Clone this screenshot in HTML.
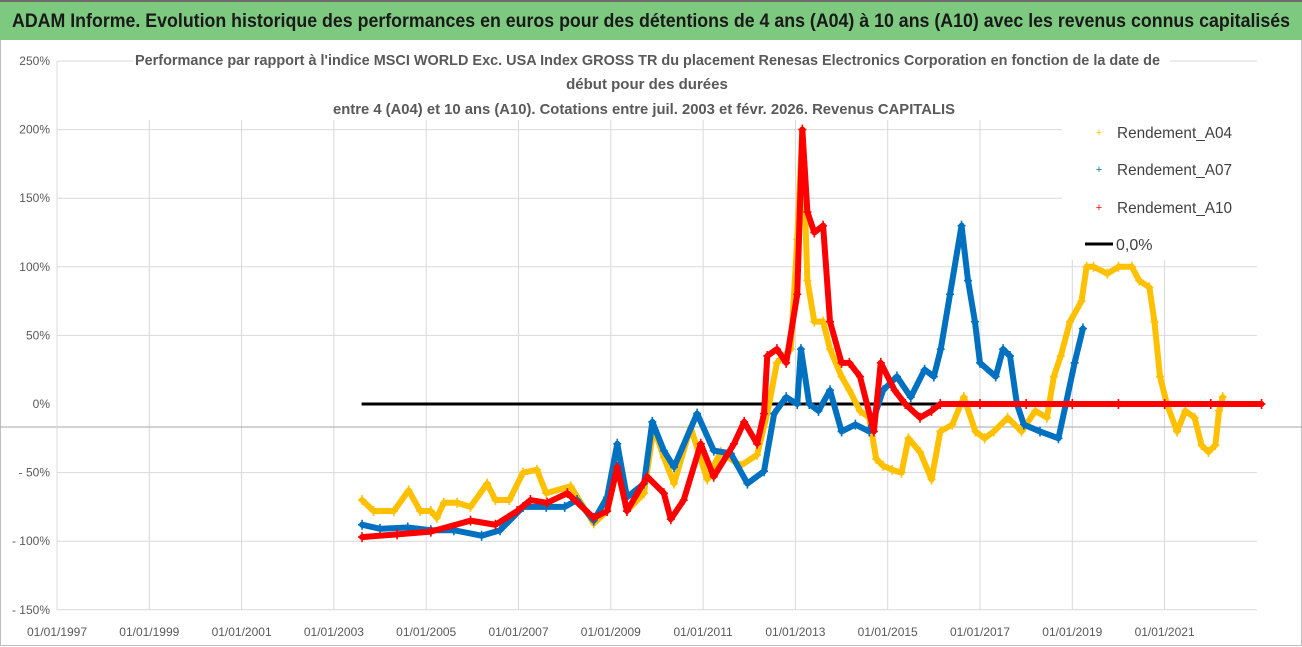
<!DOCTYPE html>
<html><head><meta charset="utf-8"><style>
html,body{margin:0;padding:0;background:#fff;}
svg{display:block;font-family:"Liberation Sans Narrow","Liberation Sans",sans-serif;}
</style></head><body>
<svg id="chart" width="1302" height="647" viewBox="0 0 1302 647">
<rect x="0" y="0" width="1302" height="647" fill="#fff"/>
<rect x="0.5" y="0.5" width="1301" height="645" fill="none" stroke="#bfbfbf"/>
<rect x="0" y="0" width="1302" height="40" fill="#7dc97f"/>
<line x1="0" y1="1" x2="1302" y2="1" stroke="#6b6b6b" stroke-width="2"/>
<text x="12" y="27" font-size="19" font-weight="bold" fill="#1a1a1a" textLength="1278" lengthAdjust="spacingAndGlyphs">ADAM Informe. Evolution historique des performances en euros pour des détentions de 4 ans (A04) à 10 ans (A10) avec les revenus connus capitalisés</text>
<g id="grid"></g>
<g id="marks"></g>
<g id="axes"></g>
<rect x="133" y="44" width="1037" height="76" fill="#fff"/>
<g font-size="15" font-weight="bold" fill="#595959">
<text x="135" y="65" textLength="1025" lengthAdjust="spacingAndGlyphs">Performance par rapport à l'indice MSCI WORLD Exc. USA Index GROSS TR  du placement Renesas Electronics Corporation en fonction de la date de</text>
<text x="647" y="89" text-anchor="middle">début pour des durées</text>
<text x="333" y="114" textLength="622" lengthAdjust="spacingAndGlyphs">entre 4 (A04) et 10 ans (A10). Cotations entre juil. 2003 et févr. 2026. Revenus CAPITALIS</text>
</g>
<g id="legend">
<rect x="1062" y="115" width="196" height="145" fill="#fff"/>
<g><text x="1099" y="136" font-size="11" fill="#ffc000" text-anchor="middle">+</text><text x="1117" y="138" font-size="16" fill="#404040" textLength="115" lengthAdjust="spacingAndGlyphs">Rendement_A04</text></g>
<g><text x="1099" y="173" font-size="11" fill="#0070c0" text-anchor="middle">+</text><text x="1117" y="175" font-size="16" fill="#404040" textLength="115" lengthAdjust="spacingAndGlyphs">Rendement_A07</text></g>
<g><text x="1099" y="211" font-size="11" fill="#ff0000" text-anchor="middle">+</text><text x="1117" y="213" font-size="16" fill="#404040" textLength="115" lengthAdjust="spacingAndGlyphs">Rendement_A10</text></g>
<g><line x1="1085" y1="244" x2="1113" y2="244" stroke="#000" stroke-width="3"/><text x="1116" y="250" font-size="16" fill="#404040">0,0%</text></g>
</g>
</svg>
<script>
const yTicks=[250,200,150,100,50,0,-50,-100,-150];
const yTickLabels=["250%","200%","150%","100%","50%","0%","- 50%","- 100%","- 150%"];
const xTickYears=[1997,1999,2001,2003,2005,2007,2009,2011,2013,2015,2017,2019,2021];
const xTickLabels=["01/01/1997","01/01/1999","01/01/2001","01/01/2003","01/01/2005","01/01/2007","01/01/2009","01/01/2011","01/01/2013","01/01/2015","01/01/2017","01/01/2019","01/01/2021"];
const zeroLineDates=[2003.6,2016.1];
const zeroLineValues=[0,0];
const datesA04=[2003.61,2003.86,2004.3,2004.62,2004.87,2005.1,2005.23,2005.38,2005.67,2005.96,2006.32,2006.5,2006.8,2007.1,2007.4,2007.6,2008.13,2008.63,2008.92,2009.14,2009.35,2009.72,2009.93,2010.15,2010.37,2010.73,2011.09,2011.38,2011.81,2012.17,2012.39,2012.6,2012.9,2013.04,2013.15,2013.26,2013.41,2013.6,2013.75,2014.0,2014.17,2014.4,2014.6,2014.75,2014.9,2015.1,2015.3,2015.45,2015.7,2015.95,2016.14,2016.4,2016.65,2016.9,2017.1,2017.3,2017.6,2017.9,2018.2,2018.45,2018.6,2018.75,2018.95,2019.2,2019.31,2019.46,2019.76,2020.0,2020.29,2020.45,2020.67,2020.78,2020.9,2021.05,2021.27,2021.45,2021.65,2021.8,2021.95,2022.1,2022.18,2022.26];
const valuesA04=[-70,-78,-78,-63,-78,-78,-83,-72,-72,-75,-58,-70,-70,-50,-48,-65,-60,-87,-78,-46,-78,-65,-17,-39,-58,-17,-55,-35,-45,-37,-7,30,40,120,200,90,60,60,40,20,10,-5,-10,-40,-45,-48,-50,-25,-35,-55,-20,-15,5,-20,-25,-20,-10,-20,-5,-10,20,35,60,75,100,100,95,100,100,90,85,60,20,0,-20,-5,-10,-30,-35,-30,-5,5];
const datesA07=[2003.61,2004.0,2004.6,2005.1,2005.6,2006.2,2006.6,2007.1,2007.6,2008.0,2008.27,2008.63,2008.92,2009.14,2009.35,2009.72,2009.9,2010.15,2010.37,2010.87,2011.23,2011.6,2011.96,2012.32,2012.54,2012.8,2013.04,2013.12,2013.3,2013.5,2013.75,2014.0,2014.3,2014.6,2014.9,2015.2,2015.5,2015.8,2016.0,2016.15,2016.35,2016.6,2016.74,2016.89,2017.0,2017.34,2017.5,2017.65,2017.8,2017.95,2018.3,2018.7,2018.86,2019.05,2019.23];
const valuesA07=[-88,-91,-90,-92,-92,-96,-92,-75,-75,-75,-70,-85,-68,-29,-68,-58,-13,-34,-46,-7,-34,-36,-58,-49,-7,5,0,40,0,-5,10,-20,-15,-20,10,20,5,25,20,40,80,130,90,60,30,20,40,35,0,-15,-20,-25,0,30,55];
const datesA10=[2003.61,2004.37,2005.1,2005.96,2006.5,2006.97,2007.26,2007.62,2008.06,2008.63,2008.92,2009.14,2009.35,2009.79,2010.15,2010.3,2010.58,2010.95,2011.23,2011.67,2011.89,2012.17,2012.32,2012.39,2012.6,2012.8,2013.04,2013.15,2013.26,2013.41,2013.6,2013.75,2014.0,2014.17,2014.4,2014.7,2014.85,2015.15,2015.38,2015.7,2015.95,2016.14,2017.0,2018.0,2019.0,2020.0,2021.0,2022.0,2023.1];
const valuesA10=[-97,-95,-93,-85,-88,-78,-70,-72,-65,-83,-78,-46,-78,-53,-65,-84,-70,-29,-53,-29,-13,-29,-7,35,40,30,80,200,140,125,130,60,30,30,20,-20,30,10,0,-10,-5,0,0,0,0,0,0,0,0];

const NS="http://www.w3.org/2000/svg";
const X0=57,X1=1257,Y0=404;
function xScale(yr){return X0+(yr-1997)*46.15;}
function yScale(v){return Y0-v*1.372;}
function mk(tag,attrs,parent){const e=document.createElementNS(NS,tag);for(const k in attrs)e.setAttribute(k,attrs[k]);parent.appendChild(e);return e;}
const grid=document.getElementById('grid'),marks=document.getElementById('marks'),axes=document.getElementById('axes');

yTicks.forEach(function(v,i){
  const y=yScale(v);
  if(v!==0&&v!==-150){
    const l=mk('line',{x1:X0,y1:y,x2:X1,y2:y,stroke:'#d9d9d9','stroke-width':1},grid);
    
    
  }
  const t=mk('text',{x:50,y:y+4,'font-size':12,fill:'#595959','text-anchor':'end'},axes);
  t.textContent=yTickLabels[i];
  
  
});
xTickYears.forEach(function(yr,i){
  const x=xScale(yr);
  if(i>0){
    const l=mk('line',{x1:x,y1:120,x2:x,y2:yScale(-150),stroke:'#d9d9d9','stroke-width':1},grid);
    
    
  }
  const t=mk('text',{x:x,y:636,'font-size':12,fill:'#595959','text-anchor':'middle'},axes);
  t.textContent=xTickLabels[i];
  
  
});
const ax=mk('line',{x1:X0,y1:yScale(-150),x2:X1,y2:yScale(-150),stroke:'#d9d9d9'},axes);


const ay=mk('line',{x1:X0,y1:yScale(250),x2:X0,y2:yScale(-150),stroke:'#d9d9d9'},axes);


const hl=mk('line',{x1:0,y1:427,x2:1302,y2:427,stroke:'#a6a6a6','stroke-width':1},grid);



const zl=mk('polyline',{points:zeroLineDates.map(function(d,i){return xScale(d)+','+yScale(zeroLineValues[i]);}).join(' '),fill:'none',stroke:'#000','stroke-width':3},marks);



function drawSeries(dates,vals,color,name){
  const g=mk('g',{},marks);
  
  
  const pl=mk('polyline',{points:dates.map(function(d,i){return xScale(d)+','+yScale(vals[i]);}).join(' '),fill:'none',stroke:color,'stroke-width':6,'stroke-linejoin':'round','stroke-linecap':'round'},g);
  
  
  dates.forEach(function(d,i){
    const x=xScale(d),y=yScale(vals[i]);
    const p=mk('path',{d:'M'+(x-4)+' '+y+'h8M'+x+' '+(y-5)+'v10',stroke:color,'stroke-width':1.6},g);
    
    
  });
}
drawSeries(datesA04,valuesA04,'#ffc000','series-a04');
drawSeries(datesA07,valuesA07,'#0070c0','series-a07');
drawSeries(datesA10,valuesA10,'#ff0000','series-a10');
</script>
</body></html>
